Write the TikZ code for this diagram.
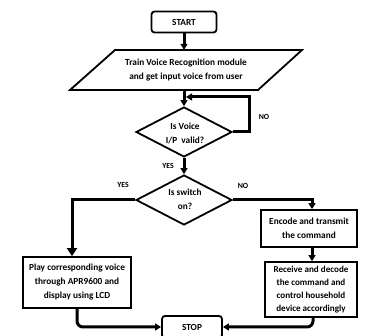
\documentclass[tikz,border=0pt]{standalone}
\usepackage{fontspec}
\setmainfont{Carlito}
\usetikzlibrary{shapes.geometric,arrows.meta}
\begin{document}
\begin{tikzpicture}[x=1pt,y=-1pt,
  every node/.style={font=\bfseries\fontsize{9.3}{14}\selectfont, align=center, inner sep=0pt},
  box/.style={draw, line width=1.8pt, rectangle},
  term/.style={draw, line width=1.8pt, rectangle, rounded corners=3pt},
  dec/.style={draw, line width=1.8pt, diamond, minimum width=96pt, minimum height=50pt},
  flow/.style={line width=3pt, -{Triangle[length=6pt,width=7pt]}},
  lab/.style={font=\bfseries\fontsize{7.8}{8}\selectfont}]
\useasboundingbox (0,0) rectangle (367,336);
\fill[white] (0,0) rectangle (367,336);
\node[term, minimum width=65pt, minimum height=21pt] (start) at (184,22) {START};
\node[minimum height=40pt] (para) at (186,70) {Train Voice Recognition module\\and get input voice from user};
\draw[line width=1.8pt, line join=miter] (115,50) -- (302,50) -- (258,90) -- (70,90) -- cycle;
\node[dec] (d1) at (184,132) {};
\node (d1t) at (185,133) {Is Voice\\I/P\ \ valid?};
\node[dec] (d2) at (184,200) {};
\node (d2t) at (185,199) {Is switch\\on?};
\node[box, minimum width=96pt, minimum height=37pt] (enc) at (309,228.5) {Encode and transmit\\the command};
\node[box, minimum width=92pt, minimum height=55pt, font=\bfseries\fontsize{9.1}{13.2}\selectfont] (rec) at (311,289.5) {Receive and decode\\the command and\\control household\\device accordingly};
\node[box, minimum width=108pt, minimum height=51pt] (play) at (77,282.5) {Play corresponding voice\\through APR9600 and\\display using LCD};
\node[term, minimum width=60pt, minimum height=22pt] (stop) at (192,327) {STOP};
\coordinate (loopend) at (186,97);
\coordinate (loopr) at (249,97);
\node[lab] (no1) at (264,117) {NO};
\node[lab] (yes1) at (168,166) {YES};
\node[lab] (yes2) at (123,185) {YES};
\node[lab] (no2) at (243,186) {NO};
\draw[flow] (start) -- (para.north -| start);
\draw[flow] (para.south -| d1) -- (d1.north);
\draw[line width=3pt, -{Triangle[length=6pt,width=7pt]}] (d1.east) -| (loopr) -- (loopend);
\draw[flow] (d1.south) -- (d2.north);
\draw[line width=3pt, -{Triangle[length=8pt,width=10pt]}] (d2.west) -| ([xshift=-5pt]play.north);
\draw[flow] (d2.east) -| ([xshift=3pt]enc.north);
\draw[flow] ([xshift=3pt]enc.south) -- ([xshift=1pt]rec.north);
\draw[flow, rounded corners=6pt] (play.south) |- (stop.west);
\draw[flow, rounded corners=6pt] ([xshift=2pt]rec.south) |- (stop.east);
\end{tikzpicture}
\end{document}
